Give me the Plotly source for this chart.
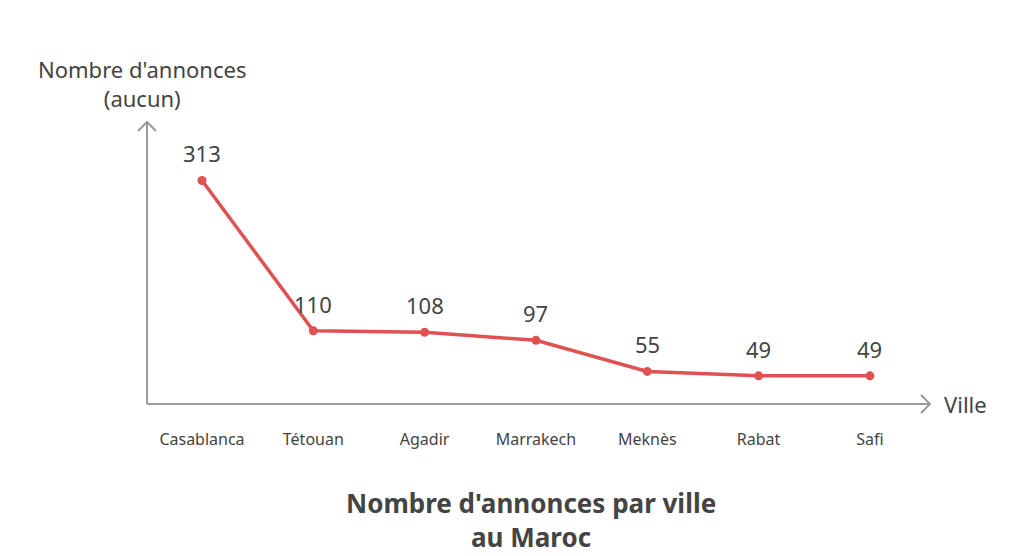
"""Line chart: number of listings per city in Morocco."""

import plotly.graph_objects as go

cities = ["Casablanca", "Tétouan", "Agadir", "Marrakech", "Meknès", "Rabat", "Safi"]
annonces = [313, 110, 108, 97, 55, 49, 49]

FONT = "Noto Sans, Lato, sans-serif"
TEXT = "#444444"
AXIS = "#9a9a9a"
RED = "#e05252"

x_idx = list(range(len(cities)))

fig = go.Figure()
fig.add_trace(
    go.Scatter(
        x=x_idx,
        y=annonces,
        mode="lines+markers",
        line=dict(color=RED, width=3.5),
        marker=dict(color=RED, size=9),
        hoverinfo="skip",
        showlegend=False,
    )
)

# value labels above each point
for i, v in zip(x_idx, annonces):
    fig.add_annotation(
        x=i, y=v, text=str(v), showarrow=False, yshift=27,
        font=dict(family=FONT, size=22, color=TEXT),
    )

fig.update_xaxes(
    range=[-0.494, 6.54],
    tickmode="array",
    tickvals=x_idx,
    ticktext=cities,
    tickfont=dict(family=FONT, size=16, color=TEXT),
    ticklabelstandoff=24,
    showgrid=False,
    zeroline=False,
    showline=False,
    ticks="",
)
fig.update_yaxes(
    range=[11, 392],
    showticklabels=False,
    showgrid=False,
    zeroline=False,
    showline=False,
    ticks="",
)

# axis lines with open arrow heads
line_style = dict(color=AXIS, width=2)
fig.add_shape(type="line", xref="paper", yref="paper", x0=0, y0=0, x1=1, y1=0, line=line_style)
fig.add_shape(type="line", xref="paper", yref="paper", x0=0, y0=0, x1=0, y1=1, line=line_style)
fig.add_shape(
    type="path", xref="paper", yref="paper", xsizemode="pixel", ysizemode="pixel",
    xanchor=1, yanchor=0, path="M -9,9 L 0,0 L -9,-9", line=line_style,
)
fig.add_shape(
    type="path", xref="paper", yref="paper", xsizemode="pixel", ysizemode="pixel",
    xanchor=0, yanchor=1, path="M -9,-9 L 0,0 L 9,-9", line=line_style,
)

# axis titles
fig.add_annotation(
    xref="paper", yref="paper", x=0, y=1, yshift=7, xshift=-5,
    text="Nombre d'annonces<br>(aucun)", showarrow=False,
    xanchor="center", yanchor="bottom",
    font=dict(family=FONT, size=22, color=TEXT),
)
fig.add_annotation(
    xref="paper", yref="paper", x=1, y=0, xshift=12,
    text="Ville", showarrow=False, xanchor="left", yanchor="middle",
    font=dict(family=FONT, size=22, color=TEXT),
)

# chart title below the plot
fig.add_annotation(
    xref="paper", yref="paper", x=0.491, y=0, yshift=-79,
    text="<b>Nombre d'annonces par ville<br>au Maroc</b>", showarrow=False,
    xanchor="center", yanchor="top",
    font=dict(family=FONT, size=26, color=TEXT),
)

fig.update_layout(
    width=1024,
    height=556,
    margin=dict(l=147, r=94, t=122, b=152),
    paper_bgcolor="white",
    plot_bgcolor="white",
)

fig.write_html(
    "out.html",
    config={"displayModeBar": False},
    post_script="document.body.style.margin='0';",
)
